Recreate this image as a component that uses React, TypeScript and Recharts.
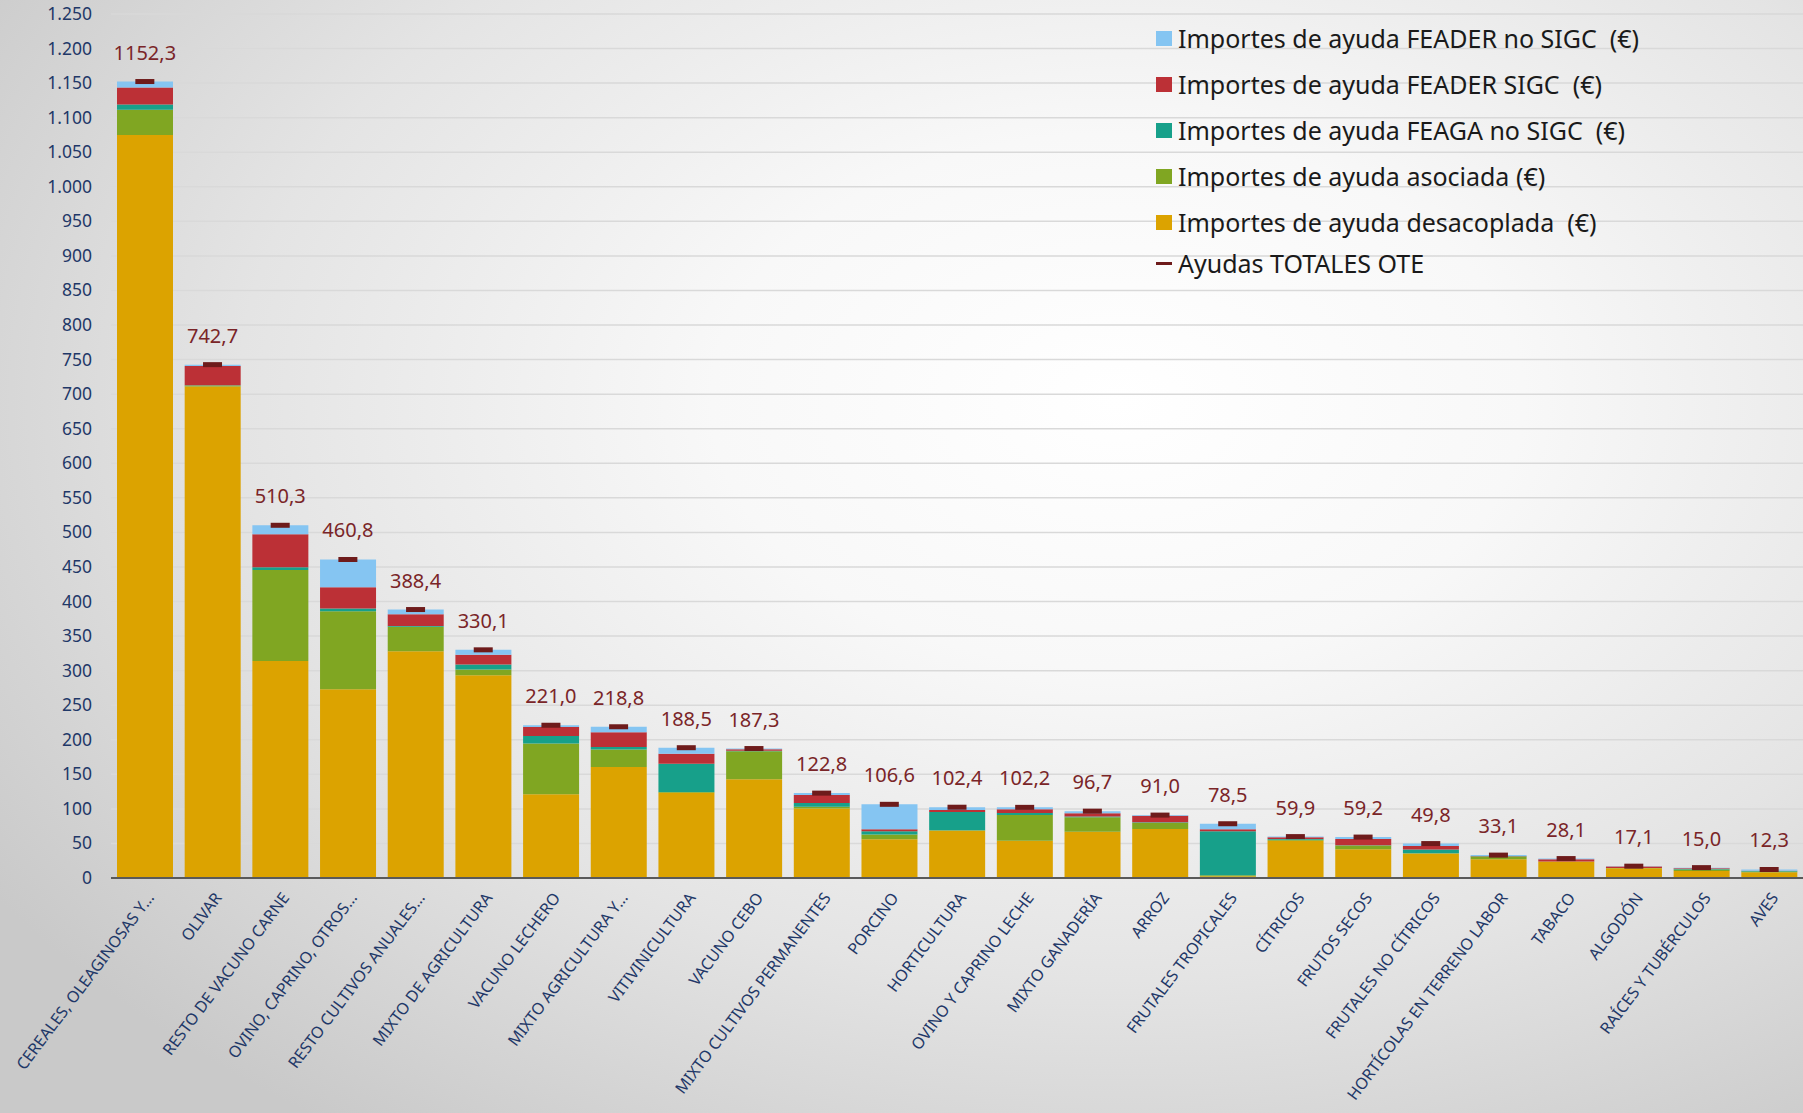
import React from 'react';
import { ComposedChart, Bar, Line, XAxis, YAxis, CartesianGrid, LabelList } from 'recharts';

const categories = [
  'CEREALES, OLEAGINOSAS Y…', 'OLIVAR', 'RESTO DE VACUNO CARNE', 'OVINO, CAPRINO, OTROS…',
  'RESTO CULTIVOS ANUALES…', 'MIXTO DE AGRICULTURA', 'VACUNO LECHERO', 'MIXTO AGRICULTURA Y…',
  'VITIVINICULTURA', 'VACUNO CEBO', 'MIXTO CULTIVOS PERMANENTES', 'PORCINO', 'HORTICULTURA',
  'OVINO Y CAPRINO LECHE', 'MIXTO GANADERÍA', 'ARROZ', 'FRUTALES TROPICALES', 'CÍTRICOS',
  'FRUTOS SECOS', 'FRUTALES NO CÍTRICOS', 'HORTÍCOLAS EN TERRENO LABOR', 'TABACO', 'ALGODÓN',
  'RAÍCES Y TUBÉRCULOS', 'AVES',
];

const desacoplada = [1075, 711, 314, 273, 328, 293.5, 121, 160.5, 123.5, 143, 100.5, 56, 68.5, 54, 67, 71, 2.5, 54, 41.5, 35.3, 27, 23.7, 14, 10.2, 8.3];
const asociada = [36.5, 1.5, 131.5, 113, 35.5, 8, 73.5, 25.5, 0.8, 40.5, 2.5, 7, 0.5, 37, 21, 9, 1.5, 1.5, 5.5, 0.5, 4, 0.2, 0.5, 2, 1];
const feagaNoSigc = [7.5, 0.3, 4, 4, 1, 7.5, 11, 3.5, 41, 0.5, 5.5, 4.5, 26.5, 3, 0.8, 0.5, 63.5, 1, 0.5, 5.5, 0.3, 0.1, 0.1, 1, 0.8];
const feaderSigc = [24.5, 28, 48, 30.5, 17, 14, 13, 21.5, 14.5, 2.3, 11.5, 3, 3, 5.5, 5, 9.5, 3, 2.5, 9, 5, 0.5, 3.3, 2.2, 0.8, 0.4];
const feaderNoSigc = [8.8, 1.9, 12.8, 40.3, 6.9, 7.1, 2.5, 7.8, 8.7, 1, 2.8, 36.1, 3.9, 2.7, 2.9, 1, 8, 0.9, 2.7, 3.5, 1.3, 0.8, 0.3, 1, 1.8];
const totales = [1152.3, 742.7, 510.3, 460.8, 388.4, 330.1, 221.0, 218.8, 188.5, 187.3, 122.8, 106.6, 102.4, 102.2, 96.7, 91.0, 78.5, 59.9, 59.2, 49.8, 33.1, 28.1, 17.1, 15.0, 12.3];

const yTicks = [0, 50, 100, 150, 200, 250, 300, 350, 400, 450, 500, 550, 600, 650, 700, 750, 800, 850, 900, 950, 1000, 1050, 1100, 1150, 1200, 1250];

const data = categories.map((name, i) => ({
  name,
  desacoplada: desacoplada[i],
  asociada: asociada[i],
  feagaNoSigc: feagaNoSigc[i],
  feaderSigc: feaderSigc[i],
  feaderNoSigc: feaderNoSigc[i],
  total: totales[i],
}));

const FONT = '"Noto Sans", "Open Sans", sans-serif';
const NAVY = '#1F3868';
const TOTAL_COLOR = '#6E1B1B';

// stacking order, bottom first
const stackSeries = [
  { key: 'desacoplada', name: 'Importes de ayuda desacoplada  (€)', color: '#DCA300' },
  { key: 'asociada', name: 'Importes de ayuda asociada (€)', color: '#80A622' },
  { key: 'feagaNoSigc', name: 'Importes de ayuda FEAGA no SIGC  (€)', color: '#17A08A' },
  { key: 'feaderSigc', name: 'Importes de ayuda FEADER SIGC  (€)', color: '#BC3036' },
  { key: 'feaderNoSigc', name: 'Importes de ayuda FEADER no SIGC  (€)', color: '#85C5F2' },
];

const fmtThousands = (v: number) => String(v).replace(/\B(?=(\d{3})+(?!\d))/g, '.');
const fmtDecimal = (v: number) => v.toFixed(1).replace('.', ',');

const YTick = ({ y, payload }: any) => (
  <text x={92} y={y} dy={6} textAnchor="end" fontSize={17.5} fill={NAVY} fontFamily={FONT}>
    {fmtThousands(payload.value)}
  </text>
);

const XTick = ({ x, y, payload }: any) => (
  <text
    transform={`translate(${x + 10},${y + 18}) rotate(-53)`}
    textAnchor="end"
    fontSize={16}
    fill={NAVY}
    fontFamily={FONT}
  >
    {payload.value}
  </text>
);

const TotalDot = ({ cx, cy }: any) => {
  if (cx == null || cy == null) return null;
  return <rect x={cx - 9.5} y={cy - 2.5} width={19} height={5} fill={TOTAL_COLOR} />;
};

const TotalLabel = ({ x, y, value }: any) => (
  <text x={x} y={y - 22} textAnchor="middle" fontSize={20} fill="#7A2528" fontFamily={FONT}>
    {fmtDecimal(Number(value))}
  </text>
);

const LegendBox = () => {
  const items = [...stackSeries].reverse();
  return (
    <div style={{ position: 'absolute', left: 1156, top: 15, fontFamily: FONT, fontSize: 25, color: '#1a1a1a' }}>
      {items.map((s) => (
        <div key={s.key} style={{ display: 'flex', alignItems: 'center', height: 46, whiteSpace: 'pre' }}>
          <span style={{ display: 'inline-block', width: 16, height: 15, background: s.color, marginRight: 6 }} />
          <span>{s.name}</span>
        </div>
      ))}
      <div style={{ display: 'flex', alignItems: 'center', height: 36 }}>
        <span style={{ display: 'inline-block', width: 16, height: 3, background: TOTAL_COLOR, marginRight: 6 }} />
        <span>Ayudas TOTALES OTE</span>
      </div>
    </div>
  );
};

const App: React.FC = () => {
  return (
    <div
      style={{
        position: 'absolute',
        left: 0,
        top: 0,
        width: 1803,
        height: 1113,
        overflow: 'hidden',
        background:
          'radial-gradient(ellipse 75% 80% at 62% 36%, #ffffff 0%, #f8f8f8 30%, #e4e4e4 65%, #c9c9c9 100%)',
      }}
    >
      <ComposedChart
        width={1803}
        height={1113}
        data={data}
        margin={{ top: 14, right: 0, left: 0, bottom: 0 }}
        barSize={56}
      >
        <CartesianGrid vertical={false} stroke="#d9d9d9" strokeWidth={1.5} />
        <XAxis
          dataKey="name"
          height={235}
          interval={0}
          tickLine={false}
          tickSize={0}
          axisLine={{ stroke: '#595959', strokeWidth: 2 }}
          tick={<XTick />}
        />
        <YAxis
          width={111}
          domain={[0, 1250]}
          ticks={yTicks}
          axisLine={false}
          tickLine={false}
          tick={<YTick />}
        />
        {stackSeries.map((s) => (
          <Bar key={s.key} dataKey={s.key} name={s.name} stackId="a" fill={s.color} isAnimationActive={false} />
        ))}
        <Line
          dataKey="total"
          name="Ayudas TOTALES OTE"
          stroke="none"
          dot={<TotalDot />}
          activeDot={false}
          isAnimationActive={false}
        >
          <LabelList dataKey="total" content={<TotalLabel />} />
        </Line>
      </ComposedChart>
      <LegendBox />
    </div>
  );
};

export default App;
